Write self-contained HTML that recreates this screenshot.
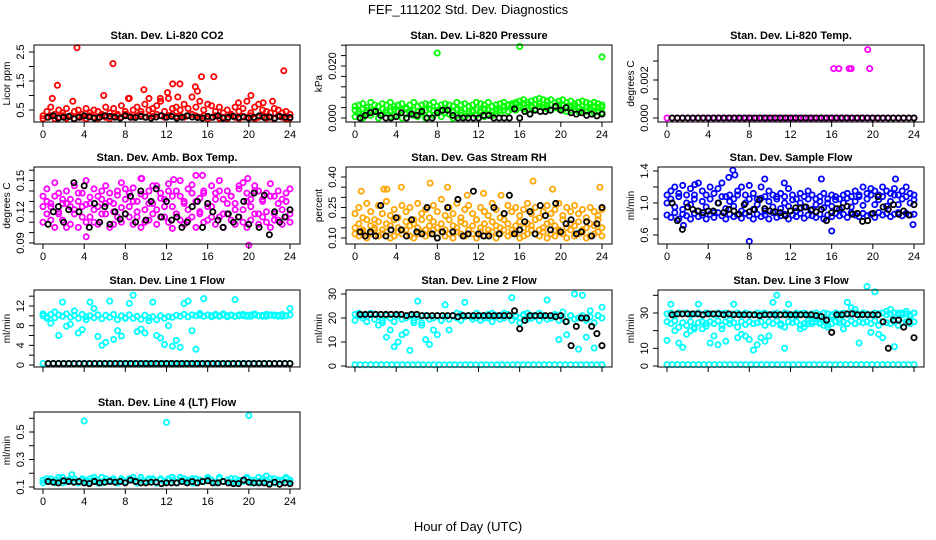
<!DOCTYPE html>
<html><head><meta charset="utf-8"><style>
html,body{margin:0;padding:0;background:#fff;}
svg{display:block;font-family:"Liberation Sans",Arial,sans-serif;}
</style></head><body>
<svg id="chart" width="936" height="540" viewBox="0 0 936 540" xmlns="http://www.w3.org/2000/svg">
<rect width="936" height="540" fill="#fff"/>
<text x="468" y="14" text-anchor="middle" font-size="13">FEF_111202  Std. Dev. Diagnostics</text>
<text x="468" y="531" text-anchor="middle" font-size="13">Hour of Day (UTC)</text>
</svg>
<script>
// ---- data ----
const co2A=[0.3,0.45,0.6,0.35,0.5,0.4,0.55,0.3,0.45,0.5,0.35,0.55,0.4,0.5,0.45,0.35,0.6,0.4,0.55,0.35,0.65,0.45,0.9,0.5,0.6,0.45,0.7,0.5,0.55,0.65,0.8,0.45,0.9,0.55,0.6,0.5,0.7,0.55,0.95,0.6,0.8,0.5,0.7,0.65,0.45,0.6,0.4,0.5,0.35,0.6,0.45,0.55,0.8,0.4,0.6,0.7,0.5,0.45,0.4,0.55,0.5,0.4,0.45,0.35];
const co2B=[0.2,0.25,0.3,0.2,0.25,0.3,0.22,0.28,0.2,0.3,0.25,0.2,0.3,0.25,0.22,0.3,0.25,0.2,0.28,0.3,0.25,0.35,0.3,0.25,0.3,0.35,0.25,0.3,0.28,0.35,0.3,0.25,0.3,0.35,0.28,0.3,0.25,0.3,0.35,0.3,0.25,0.3,0.2,0.25,0.3,0.22,0.25,0.2,0.3,0.25,0.2,0.28,0.25,0.3,0.2,0.25,0.3,0.22,0.25,0.2,0.3,0.25,0.2,0.22];
const co2K=[0.25,0.3,0.22,0.25,0.28,0.2,0.25,0.3,0.26,0.22,0.25,0.3,0.28,0.25,0.22,0.3,0.25,0.24,0.28,0.25,0.22,0.26,0.3,0.25,0.28,0.22,0.25,0.3,0.26,0.24,0.22,0.28,0.25,0.3,0.22,0.25,0.28,0.24,0.26,0.22,0.25,0.3,0.24,0.26,0.22,0.28,0.25,0.24];
const co2OutH=[3.3,6.8,1.4,0.9,5.9,9.8,12.6,13.3,15.4,16.6,23.4,14.8,20.2,12.1,2.9,10.3,11.4,13.1,15.0,19.0,21.4,22.3,8.3];
const co2OutV=[2.65,2.1,1.35,0.9,1.0,1.2,1.4,1.4,1.65,1.65,1.85,1.3,1.0,1.1,0.8,0.9,0.9,0.95,1.15,0.75,0.75,0.8,0.9];

const presA=[0.0045,0.005,0.0055,0.004,0.006,0.005,0.0045,0.0055,0.005,0.006,0.0045,0.005,0.0055,0.004,0.005,0.006,0.0045,0.005,0.0055,0.005,0.006,0.0045,0.005,0.0055,0.005,0.0045,0.006,0.005,0.0055,0.0045,0.005,0.006,0.0055,0.005,0.006,0.0045,0.005,0.0055,0.006,0.005,0.0055,0.006,0.0065,0.007,0.006,0.0065,0.007,0.0075,0.007,0.0065,0.007,0.006,0.0065,0.007,0.006,0.0065,0.0055,0.006,0.0065,0.006,0.0055,0.006,0.0055,0.005];
const presB=[0.0005,0.0015,0,0.002,0.001,0.0025,0,0.0015,0.002,0.0005,0.001,0.0025,0,0.0015,0.002,0.001,0.0005,0.002,0,0.0015,0.001,0.0025,0.0005,0.002,0.0015,0,0.001,0.002,0.0005,0.0015,0.0025,0.001,0.002,0.0005,0.0015,0.001,0.0025,0.002,0.003,0.0025,0.0035,0.003,0.004,0.0035,0.003,0.004,0.0035,0.0045,0.004,0.0035,0.003,0.004,0.0035,0.003,0.0025,0.003,0.0035,0.0025,0.003,0.0025,0.003,0.002,0.0025,0.002];
const presC=[0.003,0.0025,0.0035,0.003,0.0028,0.0032,0.0025,0.0035,0.003,0.0028,0.0033,0.0025,0.003,0.0035,0.0028,0.003,0.0025,0.0032,0.003,0.0035,0.0028,0.003,0.0025,0.0035,0.003,0.0028,0.0032,0.003,0.0035,0.0025,0.003,0.0032,0.0028,0.0035,0.003,0.0025,0.0035,0.003,0.0045,0.005,0.0048,0.0052,0.005,0.0055,0.005,0.0048,0.0052,0.0055,0.005,0.0048,0.005,0.0045,0.005,0.0048,0.0045,0.0042,0.0045,0.004,0.0045,0.0042,0.004,0.0045,0.004,0.0042];
const presK=[0,0.001,0.002,0.0025,0.001,0,0,0.0005,0.002,0,0.0015,0.001,0.0025,0,0,0.002,0.003,0.003,0.001,0,0,0,0,0,0.001,0.001,0,0,0,0,0.0035,0,0.0025,0.0015,0.003,0.0025,0.0025,0.003,0.0045,0.003,0.004,0.002,0.0015,0.002,0.001,0.0015,0.0008,0.0015];
const presOutH=[8,16,24];
const presOutV=[0.025,0.0275,0.0235];

const tempA=[0,0,0,0,0,0,0,0,0,0,0,0,0,0,0,0,0,0,0,0,0,0,0,0,0,0,0,0,0,0,0,0,0,0,0,0,0,0,0,0,0,0,0,0,0,0,0,0];
const tempK=[0,0,0,0,0,0,0,0,0,0,0,0,0,0,0,0,0,0,0,0,0,0,0,0,0,0,0,0,0,0,0,0,0,0,0,0,0,0,0,0,0,0,0,0,0,0,0,0];
const tempOutH=[16.2,16.7,17.7,17.9,19.5,19.7];
const tempOutV=[0.0026,0.0026,0.0026,0.0026,0.0036,0.0026];

const ambA=[0.125,0.13,0.112,0.135,0.118,0.128,0.105,0.132,0.122,0.138,0.115,0.127,0.134,0.11,0.125,0.14,0.118,0.13,0.108,0.136,0.124,0.142,0.115,0.13,0.12,0.137,0.11,0.128,0.145,0.122,0.133,0.115,0.14,0.125,0.118,0.135,0.128,0.112,0.146,0.13,0.12,0.138,0.125,0.115,0.132,0.14,0.118,0.128,0.135,0.122,0.145,0.11,0.13,0.125,0.14,0.118,0.132,0.12,0.135,0.112,0.128,0.122,0.13,0.118];
const ambB=[0.11,0.118,0.125,0.105,0.12,0.112,0.128,0.108,0.118,0.105,0.125,0.11,0.115,0.122,0.108,0.118,0.128,0.105,0.12,0.115,0.11,0.118,0.125,0.108,0.115,0.105,0.122,0.112,0.118,0.108,0.115,0.125,0.11,0.104,0.118,0.112,0.108,0.122,0.115,0.105,0.118,0.11,0.112,0.125,0.108,0.115,0.105,0.118,0.112,0.108,0.115,0.122,0.105,0.112,0.118,0.108,0.115,0.11,0.105,0.118,0.112,0.108,0.115,0.11];
const ambC=[0.135,0.142,0.128,0.148,0.138,0.132,0.14,0.125,0.145,0.13,0.138,0.15,0.128,0.142,0.135,0.132,0.145,0.138,0.128,0.14,0.148,0.132,0.138,0.143,0.13,0.152,0.135,0.14,0.128,0.145,0.138,0.132,0.147,0.135,0.14,0.15,0.13,0.142,0.138,0.155,0.133,0.14,0.128,0.145,0.138,0.15,0.132,0.14,0.135,0.128,0.142,0.148,0.138,0.132,0.145,0.14,0.13,0.138,0.147,0.135,0.14,0.132,0.138,0.142];
const ambK=[0.108,0.12,0.125,0.11,0.122,0.148,0.12,0.145,0.105,0.128,0.11,0.125,0.108,0.12,0.113,0.118,0.135,0.11,0.14,0.112,0.13,0.142,0.115,0.13,0.112,0.115,0.105,0.11,0.125,0.13,0.105,0.128,0.12,0.112,0.105,0.118,0.11,0.115,0.13,0.108,0.138,0.105,0.136,0.098,0.12,0.11,0.115,0.122];
const ambOutH=[4.2,20,9.6,15.5,12.7,19.9];
const ambOutV=[0.096,0.088,0.152,0.155,0.151,0.152];

const rhA=[0.22,0.25,0.2,0.27,0.23,0.19,0.26,0.22,0.28,0.21,0.24,0.2,0.26,0.23,0.25,0.19,0.27,0.22,0.24,0.2,0.26,0.23,0.29,0.21,0.25,0.22,0.27,0.2,0.24,0.26,0.22,0.19,0.25,0.23,0.21,0.27,0.24,0.2,0.22,0.26,0.23,0.25,0.21,0.24,0.27,0.22,0.25,0.2,0.23,0.26,0.22,0.24,0.27,0.21,0.25,0.23,0.26,0.22,0.24,0.2,0.25,0.23,0.21,0.24];
const rhB=[0.12,0.11,0.13,0.1,0.12,0.14,0.11,0.12,0.13,0.1,0.11,0.13,0.12,0.14,0.11,0.1,0.12,0.13,0.11,0.12,0.14,0.1,0.13,0.11,0.12,0.1,0.13,0.12,0.11,0.14,0.12,0.1,0.13,0.11,0.12,0.13,0.1,0.12,0.14,0.11,0.12,0.13,0.1,0.11,0.12,0.14,0.12,0.11,0.13,0.1,0.12,0.11,0.13,0.12,0.1,0.14,0.11,0.12,0.13,0.1,0.11,0.12,0.13,0.11];
const rhC=[0.15,0.17,0.14,0.19,0.16,0.15,0.18,0.14,0.17,0.16,0.19,0.15,0.14,0.18,0.16,0.17,0.15,0.19,0.14,0.16,0.18,0.15,0.17,0.14,0.19,0.16,0.15,0.18,0.17,0.14,0.16,0.19,0.15,0.17,0.14,0.18,0.16,0.15,0.19,0.17,0.14,0.16,0.18,0.15,0.17,0.16,0.19,0.14,0.15,0.17,0.18,0.16,0.14,0.19,0.15,0.17,0.16,0.18,0.14,0.15,0.17,0.16,0.19,0.15];
const rhK=[0.13,0.11,0.13,0.11,0.26,0.11,0.14,0.2,0.14,0.11,0.19,0.13,0.12,0.25,0.12,0.1,0.13,0.25,0.13,0.29,0.11,0.12,0.33,0.12,0.11,0.11,0.25,0.12,0.22,0.31,0.12,0.14,0.18,0.23,0.12,0.26,0.21,0.14,0.27,0.13,0.17,0.19,0.12,0.13,0.18,0.11,0.17,0.25];
const rhOutH=[0.6,2.8,4.5,7.3,9.0,12.5,17.3,19.2,23.8,3.1,10.9,14.2];
const rhOutV=[0.33,0.34,0.35,0.37,0.35,0.32,0.38,0.34,0.35,0.34,0.31,0.31];

const sfA=[1.0,1.05,0.95,1.08,0.92,1.0,0.98,1.1,0.9,1.02,0.95,1.05,0.88,1.0,1.08,0.93,1.02,0.96,1.1,0.9,1.0,1.05,0.92,0.98,1.06,0.9,1.02,0.95,1.08,0.93,1.0,0.96,1.04,0.9,1.0,0.95,1.05,0.92,0.98,1.02,0.94,1.0,0.96,1.04,0.92,1.0,1.06,0.95,1.02,1.08,0.97,1.05,1.1,0.98,1.04,1.08,0.96,1.02,1.1,0.98,1.05,1.08,1.0,1.04];
const sfB=[0.85,0.82,0.88,0.8,0.86,0.84,0.8,0.87,0.83,0.85,0.8,0.86,0.82,0.88,0.84,0.8,0.86,0.83,0.85,0.81,0.87,0.84,0.8,0.86,0.83,0.85,0.8,0.88,0.82,0.84,0.86,0.8,0.85,0.83,0.87,0.81,0.85,0.84,0.82,0.86,0.8,0.85,0.83,0.87,0.84,0.86,0.82,0.88,0.85,0.83,0.87,0.84,0.86,0.82,0.88,0.85,0.87,0.83,0.86,0.88,0.84,0.87,0.85,0.86];
const sfC=[1.1,1.15,1.2,1.12,1.22,1.1,1.18,1.05,1.25,1.15,1.1,1.2,1.12,1.18,1.25,1.08,1.1,1.05,1.15,1.2,1.1,1.22,1.12,1.05,1.2,1.08,1.15,1.1,1.05,1.12,1.08,1.18,1.1,1.05,1.12,1.08,1.15,1.1,1.05,1.08,1.12,1.05,1.1,1.08,1.05,1.1,1.12,1.08,1.15,1.1,1.2,1.12,1.18,1.15,1.1,1.2,1.15,1.12,1.18,1.1,1.15,1.2,1.12,1.1];
const sfK=[1.0,0.78,0.67,0.95,0.92,0.9,0.88,0.9,0.9,1.0,0.88,0.92,0.9,0.86,0.98,0.89,0.92,1.04,0.93,0.9,0.89,0.88,0.84,0.9,0.94,0.94,0.95,0.91,0.89,0.92,0.78,0.88,0.93,0.94,0.96,0.86,0.87,0.77,0.78,0.87,1.08,0.95,0.92,0.98,0.86,0.9,0.85,0.98];
const sfOutH=[6.0,6.4,8,9.5,15.0,16,22.2,23.9,6.6,1.6,2.7,11.4];
const sfOutV=[1.32,1.41,0.52,1.3,1.3,0.65,1.3,0.73,1.35,0.72,1.23,1.25];

const l1A=[10,9.8,10.3,9.6,10.2,9.9,10.4,9.7,10.1,9.5,10.3,9.8,10,9.6,10.2,9.4,10.1,9.7,10.3,9.2,10,9.6,10.2,9.5,9.9,9.3,10.1,9.6,9.8,9.2,10,9.5,9.8,9.7,10.1,9.9,10.3,9.8,10.2,10,10.1,9.9,10.2,10,10.1,9.9,10.2,10,10.1,9.9,10.2,10,10.1,9.9,10.2,10,10.1,9.9,10.2,10,10.1,9.9,10,10.2];
const l1B=[10.4,9.5,8.5,10.8,6.0,12.8,7.9,8.3,11.0,6.5,7.2,9.2,12.8,11.5,5.8,4.0,4.6,13.0,5.2,7.0,5.9,9.5,12.5,14.2,6.8,7.3,6.5,9.0,12.8,6.0,5.5,4.2,8.0,3.8,5.0,3.6,12.5,13.0,7.0,3.2,10.5,13.5,10.2,9.8,10.3,10.0,10.4,9.8,10.2,13.3,10.0,10.3,9.9,10.2,10.4,10.0,9.9,10.3,10.1,10.2,9.9,10.3,10.0,11.5];
const l1Z=[0.3,0.3,0.3,0.3,0.3,0.3,0.3,0.3,0.3,0.3,0.3,0.3,0.3,0.3,0.3,0.3,0.3,0.3,0.3,0.3,0.3,0.3,0.3,0.3,0.3,0.3,0.3,0.3,0.3,0.3,0.3,0.3,0.3,0.3,0.3,0.3,0.3,0.3,0.3,0.3,0.3,0.3,0.3,0.3,0.3,0.3,0.3,0.3];
const l1K=[0.3,0.3,0.3,0.3,0.3,0.3,0.3,0.3,0.3,0.3,0.3,0.3,0.3,0.3,0.3,0.3,0.3,0.3,0.3,0.3,0.3,0.3,0.3,0.3,0.3,0.3,0.3,0.3,0.3,0.3,0.3,0.3,0.3,0.3,0.3,0.3,0.3,0.3,0.3,0.3,0.3,0.3,0.3,0.3,0.3,0.3,0.3,0.3];

const l2A=[19,21,20,18.5,21.5,19.5,20.5,19,21,20,18.5,21,19.5,20,21,19,20.5,18,21,19.5,20,21,19,20.5,19.5,21,20,19,20.5,21,19.5,20,19,21,20,18.5,21,19.5,20,21,19,20.5,18,21,19.5,20,21,19,20.5,19.5,20,21,19,20,18.5,21,19.5,20,21,19,20.5,18,21,20];
const l2B=[21.5,22,21,20.5,22,21.5,17,18,12,15,8,10,13,14,6.5,18,27,17,11,9,15,13,19,25.5,15,21,22,21.5,26.5,21,20.5,22,21,20,21.5,22,20.5,21,22,21.5,28.5,21,20,21.5,22,21,20.5,22,21,27.5,20,21.5,11,22.5,13,21,30,7,29.5,12,23,7.5,21,24.5];
const l2Z=[0.5,0.5,0.5,0.5,0.5,0.5,0.5,0.5,0.5,0.5,0.5,0.5,0.5,0.5,0.5,0.5,0.5,0.5,0.5,0.5,0.5,0.5,0.5,0.5,0.5,0.5,0.5,0.5,0.5,0.5,0.5,0.5,0.5,0.5,0.5,0.5,0.5,0.5,0.5,0.5,0.5,0.5,0.5,0.5,0.5,0.5,0.5,0.5];
const l2K=[21.5,21.5,21.5,21.5,21.5,21.5,21.5,21.5,21.5,21,21.5,21.5,21,21,21,21,21,21,21,20.5,21,21,21,21,21,21,21,21,21,21,23,15.5,19,21,21,21,21,21,20.5,21,18.5,8.5,16.5,20,20,16.5,13.5,8.5];

const l3A=[29.5,30,29,30,29.5,30,29,29.5,30,29,30,29.5,29,30,29.5,30,29,29.5,30,29,30,29.5,29,30,29.5,30,29,29.5,30,29,30,29.5,29,30,29.5,30,29,29.5,30,29,30,29.5,29,30,29.5,30,29,29.5,30,29,30,29.5,29,30,29.5,30,29,29.5,30,29,30,29.5,29,30];
const l3B=[25,24,25.5,22,24.5,23,25,21,24.5,25,22.5,25,24,25.5,23,25,24,24.5,22,25,23.5,25,24,24.5,25,23,25,24,25.5,24,22,25,24.5,25,23,24,25.5,24,25,24.5,25,23.5,24,25,24.5,25,24,25.5,24,25,24.5,25,24,25.5,23,25,24.5,24,25,23,24.5,25,24,25];
const l3C=[14.5,35,20,13,10.5,18,20,22,35,21,24,13,17,12,21,14,26,35,16,18,17,15,9,12,16,14,17,36,40,23,10,35,27,28,21,22,24,25,27,24,23,22,28,25,26,21,36,33,32,13,30,45,19,42,18,16,31,32,11,30,29,31,28,30];
const l3Z=[0.8,0.8,0.8,0.8,0.8,0.8,0.8,0.8,0.8,0.8,0.8,0.8,0.8,0.8,0.8,0.8,0.8,0.8,0.8,0.8,0.8,0.8,0.8,0.8,0.8,0.8,0.8,0.8,0.8,0.8,0.8,0.8,0.8,0.8,0.8,0.8,0.8,0.8,0.8,0.8,0.8,0.8,0.8,0.8,0.8,0.8,0.8,0.8];
const l3K=[29,29.5,29.5,29.5,29.5,29.5,29,29.5,29.5,29.5,29,29.5,29,29,29,29,29,28.5,29,29,29,29,29,29,29,29,29,29,28.5,28,26,19,29,29,29.5,29.5,29,29,29,29,29,25,10,26,26,22,25,16];

const l4A=[0.15,0.14,0.16,0.13,0.15,0.17,0.14,0.15,0.16,0.13,0.15,0.14,0.16,0.15,0.13,0.17,0.14,0.15,0.16,0.13,0.15,0.14,0.16,0.15,0.13,0.17,0.14,0.15,0.16,0.13,0.15,0.14,0.16,0.15,0.13,0.17,0.14,0.15,0.16,0.13,0.15,0.14,0.16,0.15,0.13,0.17,0.14,0.15,0.16,0.13,0.15,0.14,0.16,0.15,0.13,0.17,0.14,0.15,0.16,0.13,0.15,0.14,0.16,0.15];
const l4B=[0.13,0.16,0.14,0.15,0.17,0.13,0.15,0.16,0.14,0.13,0.16,0.15,0.14,0.17,0.15,0.13,0.16,0.14,0.15,0.13,0.16,0.14,0.15,0.17,0.13,0.15,0.14,0.16,0.15,0.13,0.16,0.14,0.15,0.17,0.13,0.15,0.16,0.14,0.13,0.16,0.15,0.14,0.17,0.15,0.13,0.16,0.14,0.15,0.13,0.16,0.14,0.15,0.17,0.13,0.15,0.14,0.16,0.15,0.13,0.16,0.14,0.15,0.17,0.14];
const l4K=[0.14,0.135,0.13,0.145,0.14,0.135,0.14,0.13,0.125,0.14,0.13,0.135,0.14,0.135,0.14,0.13,0.15,0.14,0.13,0.13,0.135,0.135,0.125,0.13,0.13,0.13,0.14,0.13,0.14,0.13,0.14,0.145,0.13,0.13,0.14,0.13,0.125,0.125,0.15,0.135,0.13,0.13,0.13,0.12,0.135,0.12,0.13,0.125];
const l4OutH=[4,12,20,2.8,21.7];
const l4OutV=[0.58,0.57,0.62,0.19,0.18];

const xTicks=[0,4,8,12,16,20,24];

// ---- layout ----
const svg=document.getElementById('chart');
const NS='http://www.w3.org/2000/svg';
const colLeft=[34,346,658], rowTop=[45,167,290,412], W=266, H=77;

function mk(tag,attrs,parent){const e=document.createElementNS(NS,tag);for(const k in attrs)e.setAttribute(k,attrs[k]);(parent||svg).appendChild(e);return e;}

const panels=[
 {key:'co2',title:'Stan. Dev. Li-820 CO2',ylab:'Licor ppm',col:0,row:0,v0:0.5,p0:110,v1:2.5,p1:52,ticks:[0.5,1,1.5,2,2.5],labels:['0.5','1.5','2.5'],color:'#ff0000',series:[co2B,co2A],black:co2K,outH:co2OutH,outV:co2OutV,xlab:true},
 {key:'pressure',title:'Stan. Dev. Li-820 Pressure',ylab:'kPa',col:1,row:0,v0:0,p0:118,v1:0.02,p1:66,ticks:[0,0.004,0.008,0.012,0.016,0.02,0.024,0.028],labels:['0.000','0.020'],color:'#00ff00',series:[presB,presC,presA],black:presK,outH:presOutH,outV:presOutV,xlab:true},
 {key:'temp',title:'Stan. Dev. Li-820 Temp.',ylab:'degrees C',col:2,row:0,v0:0,p0:118,v1:0.002,p1:80,ticks:[0,0.001,0.002,0.003],labels:['0.000','0.002'],color:'#ff00ff',series:[tempA],black:tempK,outH:tempOutH,outV:tempOutV,xlab:true},
 {key:'ambtemp',title:'Stan. Dev. Amb. Box Temp.',ylab:'degrees C',col:0,row:1,v0:0.09,p0:243,v1:0.15,p1:180.6,ticks:[0.09,0.10,0.11,0.12,0.13,0.14,0.15,0.16],labels:['0.09','0.12','0.15'],color:'#ff00ff',series:[ambB,ambA,ambC],black:ambK,outH:ambOutH,outV:ambOutV,xlab:true},
 {key:'rh',title:'Stan. Dev. Gas Stream RH',ylab:'percent',col:1,row:1,v0:0.10,p0:238,v1:0.40,p1:177,ticks:[0.10,0.15,0.20,0.25,0.30,0.35,0.40],labels:['0.10','0.25','0.40'],color:'#ffa500',series:[rhB,rhC,rhA],black:rhK,outH:rhOutH,outV:rhOutV,xlab:true},
 {key:'sampleflow',title:'Stan. Dev. Sample Flow',ylab:'ml/min',col:2,row:1,v0:0.6,p0:235,v1:1.4,p1:171,ticks:[0.6,0.8,1.0,1.2,1.4],labels:['0.6','1.0','1.4'],color:'#0000ff',series:[sfB,sfC,sfA],black:sfK,outH:sfOutH,outV:sfOutV,xlab:true},
 {key:'line1',title:'Stan. Dev. Line 1 Flow',ylab:'ml/min',col:0,row:2,v0:0,p0:365,v1:12,p1:306,ticks:[0,2,4,6,8,10,12,14],labels:['0','4','8','12'],color:'#00ffff',series:[l1Z,l1B,l1A],black:l1K,outH:[],outV:[],xlab:false},
 {key:'line2',title:'Stan. Dev. Line 2 Flow',ylab:'ml/min',col:1,row:2,v0:0,p0:366,v1:30,p1:294,ticks:[0,10,20,30],labels:['0','10','20','30'],color:'#00ffff',series:[l2Z,l2B,l2A],black:l2K,outH:[],outV:[],xlab:false},
 {key:'line3',title:'Stan. Dev. Line 3 Flow',ylab:'ml/min',col:2,row:2,v0:0,p0:366,v1:30,p1:313,ticks:[0,10,20,30,40],labels:['0','10','30'],color:'#00ffff',series:[l3Z,l3C,l3B,l3A],black:l3K,outH:[],outV:[],xlab:false},
 {key:'line4',title:'Stan. Dev. Line 4 (LT) Flow',ylab:'ml/min',col:0,row:3,v0:0.1,p0:487,v1:0.5,p1:432,ticks:[0.1,0.2,0.3,0.4,0.5,0.6],labels:['0.1','0.3','0.5'],color:'#00ffff',series:[l4A,l4B],black:l4K,outH:l4OutH,outV:l4OutV,xlab:true}
];

function fmt(v,ref){return ref.find(s=>Math.abs(parseFloat(s)-v)<1e-9);}

panels.forEach(p=>{
  const L=colLeft[p.col], T=rowTop[p.row], R=L+W, B=T+H;
  const xs=h=>L+9+h*(247/24);
  const ys=v=>p.p0+(v-p.v0)*(p.p1-p.p0)/(p.v1-p.v0);
  const g=mk('g',{});
  
  
  const t=mk('text',{x:(L+R)/2,y:T-6,'text-anchor':'middle','font-size':11,'font-weight':'bold'},g);
  
  
  t.textContent=p.title;
  const yl=mk('text',{x:0,y:0,transform:`translate(${L-24},${(T+B)/2}) rotate(-90)`,'text-anchor':'middle','font-size':10},g);
  
  
  yl.textContent=p.ylab;
  const pts=mk('g',{fill:'none','stroke-width':1.8},g);
  
  
  p.series.forEach(arr=>{
    arr.forEach((v,i)=>{
      const h=i*24/(arr.length-1);
      const c=mk('circle',{cx:xs(h).toFixed(1),cy:ys(v).toFixed(1),r:2.6,stroke:p.color},pts);
      
      
    });
  });
  p.outH.forEach((h,i)=>{
    const c=mk('circle',{cx:xs(h).toFixed(1),cy:ys(p.outV[i]).toFixed(1),r:2.6,stroke:p.color},pts);
    
    
  });
  p.black.forEach((v,i)=>{
    const h=0.5+i*23.5/(p.black.length-1);
    const c=mk('circle',{cx:xs(h).toFixed(1),cy:ys(v).toFixed(1),r:2.6,stroke:'#000'},pts);
    
    
  });
  const bx=mk('rect',{x:L,y:T,width:W,height:H,fill:'none',stroke:'#000','stroke-width':1},g);
  
  
  p.ticks.forEach(v=>{
    const y=ys(v); if(y<T-1||y>B+1)return;
    mk('line',{x1:L-5,x2:L,y1:y,y2:y,stroke:'#000'},g);
    const lab=fmt(v,p.labels);
    if(lab){const tx=mk('text',{x:0,y:0,transform:`translate(${L-10},${y}) rotate(-90)`,'text-anchor':'middle','font-size':11},g);
      
      
      tx.textContent=lab;}
  });
  xTicks.forEach(h=>{
    const x=xs(h);
    mk('line',{x1:x,x2:x,y1:B,y2:B+5,stroke:'#000'},g);
    if(p.xlab){const tx=mk('text',{x:x,y:B+16,'text-anchor':'middle','font-size':11},g);
      
      
      tx.textContent=h;}
  });
});
</script>
</body></html>
